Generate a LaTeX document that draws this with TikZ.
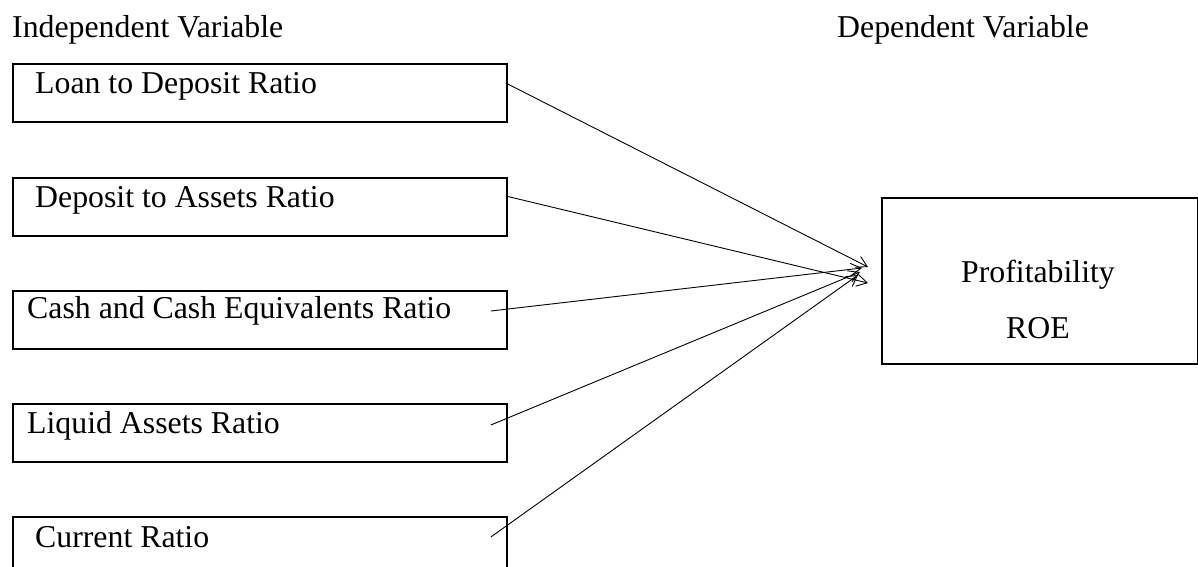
\documentclass[tikz,border=0pt]{standalone}
\usepackage{fontspec}
\setmainfont{Liberation Serif}
\usetikzlibrary{arrows.meta,calc}
\begin{document}
\begin{tikzpicture}[x=1pt,y=-1pt,
  varbox/.style={draw,line width=1.8pt,minimum width=494pt,minimum height=58pt,inner sep=0pt,anchor=north west},
  txt/.style={inner sep=0pt,anchor=base west,font=\fontsize{31.8}{38}\selectfont},
  ctxt/.style={inner sep=0pt,anchor=base,font=\fontsize{31.8}{38}\selectfont},
  conn/.style={line width=0.9pt,-{Straight Barb[angle=60:12pt,line width=0.9pt]}}]
\useasboundingbox (0,0) rectangle (1198,566);
\node[txt] (ti) at (12,37) {Independent Variable};
\node[txt] (td) at (837,37) {Dependent Variable};
\node[varbox] (b1) at (12,63) {};
\node[varbox] (b2) at (12,177) {};
\node[varbox] (b3) at (12,290) {};
\node[varbox] (b4) at (12,403) {};
\node[varbox] (b5) at (12,516) {};
\node[txt] (l1) at ($(b1.north west)+(23,30)$) {Loan to Deposit Ratio};
\node[txt] (l2) at ($(b2.north west)+(23,30)$) {Deposit to Assets Ratio};
\node[txt] (l3) at ($(b3.north west)+(15,28)$) {Cash and Cash Equivalents Ratio};
\node[txt] (l4) at ($(b4.north west)+(15,30)$) {Liquid Assets Ratio};
\node[txt] (l5) at ($(b5.north west)+(23,31)$) {Current Ratio};
\node[draw,line width=1.8pt,minimum width=316pt,minimum height=166pt,inner sep=0pt,anchor=north west] (p) at (881,197) {};
\node[ctxt] (pt) at (1038,282) {Profitability};
\node[ctxt] (pr) at (1038,338) {ROE};
\coordinate (s1) at ($(b1.north east)+(-2,20)$);
\coordinate (s2) at ($(b2.north east)+(-2,19)$);
\coordinate (s3) at ($(b3.north east)+(-17,21)$);
\coordinate (s4) at ($(b4.north east)+(-17,22)$);
\coordinate (s5) at ($(b5.north east)+(-17,21)$);
\coordinate (t1) at ($(p.north west)+(-13,70)$);
\coordinate (t2) at ($(p.north west)+(-13,86)$);
\coordinate (t3) at ($(p.north west)+(-19,71)$);
\coordinate (t4) at ($(p.north west)+(-21,75)$);
\coordinate (t5) at ($(p.north west)+(-23,78)$);
\draw[conn] (s1) -- (t1);
\draw[conn] (s2) -- (t2);
\draw[conn] (s3) -- (t3);
\draw[conn] (s4) -- (t4);
\draw[conn] (s5) -- (t5);
\end{tikzpicture}
\end{document}
